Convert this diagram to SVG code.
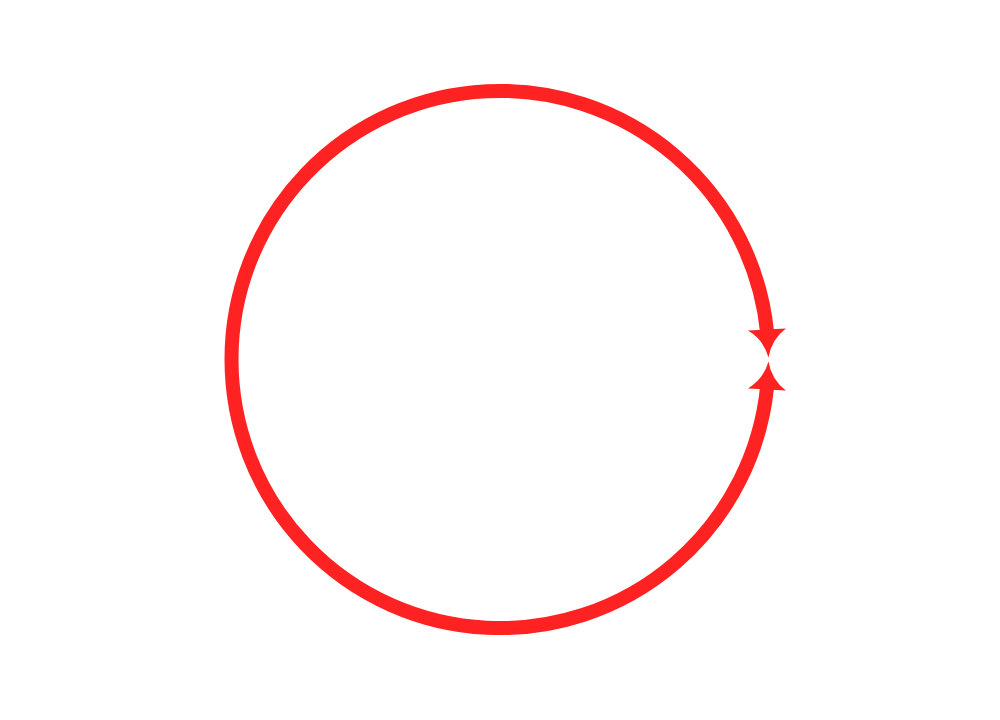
<svg xmlns="http://www.w3.org/2000/svg" width="1000" height="720" viewBox="0 0 1000 720">
  <style>
    .arc { fill: none; stroke: #ff2222; stroke-width: 14; stroke-linecap: butt; stroke-linejoin: round; }
    .head { fill: #ff2222; stroke: none; }
  </style>
  <defs>
    <path id="ahead" d="M0,0 Q-18,-4 -28,-19 L-28,19 Q-18,4 0,0 Z"/>
  </defs>
  <rect width="1000" height="720" fill="#ffffff"/>
  <g id="connectors">
    <path class="arc" d="M767.2,333 A268.5,268.5 0 0 0 231.5,359.5 A268.5,268.5 0 0 0 767.2,386"/>
    <use href="#ahead" class="head" transform="translate(768.5,357.5) rotate(86.8)"/>
    <use href="#ahead" class="head" transform="translate(768.5,361.5) rotate(-86.8)"/>
  </g>
</svg>
